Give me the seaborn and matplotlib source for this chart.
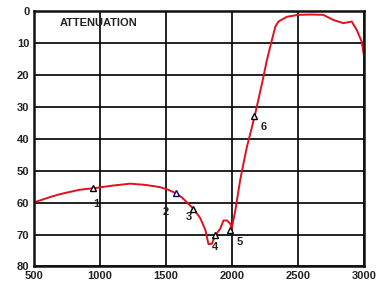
import pandas as pd
import seaborn as sns
from matplotlib import pyplot as plt

# attenuation curve
wavelength = [500, 560, 625, 690, 751, 850, 961, 1100, 1231, 1350, 1458, 1520, 1572, 1620, 1660, 1711,
              1761, 1800, 1824, 1850, 1875, 1913, 1938, 1963, 1989, 2000, 2027, 2064, 2089, 2115,
              2153, 2178, 2229, 2266, 2304, 2330, 2354, 2418, 2506, 2600, 2693, 2769, 2845, 2908, 2946,
              2984, 3000]
attenuation = [60, 59.2, 58.3, 57.5, 56.9, 56.0, 55.5, 54.7, 54.1, 54.5, 55.2, 56.0, 57.0, 58.3, 59.9, 62.0,
               64.8, 68.5, 73.0, 72.9, 70.3, 68.2, 65.6, 65.6, 66.6, 68.2, 62.5, 53.0, 47.8, 42.6,
               36.4, 32.2, 22.8, 15.5, 9.2, 5.0, 3.4, 1.9, 1.3, 1.2, 1.3, 2.9, 3.9, 3.4, 6.0,
               9.7, 13.9]

marker_x = [950, 1575, 1710, 1870, 1990, 2170]
marker_y = [55.5, 57.0, 62.0, 70.0, 68.5, 33.0]
marker_colors = ['black', 'navy', 'black', 'black', 'black', 'black']
label_text = ['1', '2', '3', '4', '5', '6']
label_x = [979, 1500, 1673, 1875, 2059, 2241]
label_y = [60.5, 63.0, 64.5, 74.0, 72.5, 36.5]

df = pd.DataFrame({'Wavelength': wavelength, 'Attenuation': attenuation})

plt.rcParams['font.family'] = ['Liberation Sans', 'DejaVu Sans']
fig = plt.figure(figsize=(3.83, 2.85), dpi=100)
ax = fig.add_axes([0.0875, 0.065, 0.8625, 0.8975])

sns.lineplot(x='Wavelength', y='Attenuation', data=df, ax=ax, color='#e0101c',
             linewidth=1.4)

for mx, my, mc in zip(marker_x, marker_y, marker_colors):
    ax.plot(mx, my, marker='^', markersize=5, markerfacecolor='white',
            markeredgecolor=mc, markeredgewidth=1.0, zorder=5)
for lx, ly, lt in zip(label_x, label_y, label_text):
    ax.text(lx, ly, lt, fontsize=8, fontweight='bold', color='#222222',
            ha='center', va='center')

ax.text(700, 3.9, 'ATTENUATION', fontsize=8, fontweight='bold', color='#222222',
        ha='left', va='center')

ax.set_xlim(500, 3000)
ax.set_ylim(80, 0)
ax.set_xticks([500, 1000, 1500, 2000, 2500, 3000])
ax.set_yticks([0, 10, 20, 30, 40, 50, 60, 70, 80])
ax.grid(True, color='#111111', linewidth=1.3)
ax.set_axisbelow(True)
ax.set_xlabel('')
ax.set_ylabel('')
ax.tick_params(length=0, labelsize=8, pad=3, labelcolor='#222222')
for lbl in ax.get_xticklabels() + ax.get_yticklabels():
    lbl.set_fontweight('bold')
for sp in ax.spines.values():
    sp.set_linewidth(1.8)
    sp.set_color('#111111')

fig.savefig('out.png', dpi=100)
